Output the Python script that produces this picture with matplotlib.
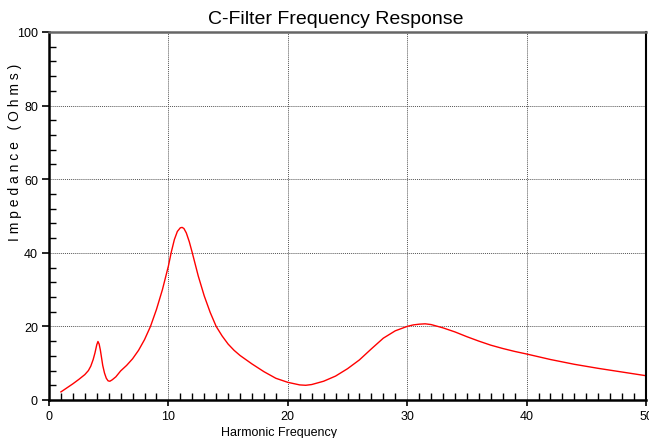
import numpy as np
import matplotlib
matplotlib.use('Agg')
import matplotlib.pyplot as plt
from matplotlib.ticker import MultipleLocator

# harmonic order vs impedance (ohms)
harmonic = [1.0, 1.5, 2.0, 2.5, 3.0, 3.3, 3.5, 3.7, 3.85, 4.0, 4.1, 4.2, 4.3, 4.4, 4.5,
            4.65, 4.8, 4.95, 5.1, 5.3, 5.6, 6.0, 6.5, 7.0, 7.5, 8.0, 8.5, 9.0, 9.5,
            10.0, 10.25, 10.5, 10.75, 11.0, 11.15, 11.3, 11.5, 11.75, 12.0, 12.5,
            13.0, 13.5, 14.0, 14.5, 15.0, 15.5, 16.0, 17.0, 18.0, 19.0, 20.0, 21.0,
            21.5, 22.0, 23.0, 24.0, 25.0, 26.0, 27.0, 28.0, 29.0, 30.0, 30.5, 31.0,
            31.5, 32.0, 33.0, 34.0, 35.0, 36.0, 37.0, 38.0, 39.0, 40.0, 42.0, 44.0,
            46.0, 48.0, 50.0]
impedance = [2.2, 3.3, 4.4, 5.6, 6.9, 8.0, 9.2, 11.0, 12.8, 15.0, 15.9, 15.2, 13.6, 11.5, 9.4,
             7.3, 5.9, 5.2, 5.1, 5.5, 6.3, 7.9, 9.4, 11.2, 13.5, 16.4, 20.0, 24.6, 30.0,
             36.4, 40.3, 43.6, 45.8, 46.8, 46.9, 46.6, 45.4, 43.0, 40.0, 33.7,
             28.3, 23.8, 20.0, 17.4, 15.2, 13.5, 12.1, 9.8, 7.7, 5.9, 4.8, 4.1,
             4.0, 4.2, 5.1, 6.5, 8.5, 10.9, 13.9, 16.8, 18.8, 20.0, 20.4, 20.6,
             20.7, 20.5, 19.6, 18.5, 17.2, 16.0, 14.9, 14.0, 13.2, 12.5, 11.0, 9.7,
             8.6, 7.6, 6.6]

plt.rcParams['font.family'] = ['Liberation Sans', 'DejaVu Sans']

fig = plt.figure(figsize=(6.49, 4.39), dpi=100)
ax = fig.add_axes([49 / 649, 1 - 401 / 439, 597 / 649, 368 / 439])

ax.plot(harmonic, impedance, color='red', lw=1.0)

ax.set_xlim(0, 50)
ax.set_ylim(0, 100)
ax.xaxis.set_major_locator(MultipleLocator(10))
ax.xaxis.set_minor_locator(MultipleLocator(1))
ax.yaxis.set_major_locator(MultipleLocator(20))
ax.yaxis.set_minor_locator(MultipleLocator(4))

ax.tick_params(which='major', direction='out', length=5, width=1.2, labelsize=9, pad=3)
ax.tick_params(which='minor', direction='in', length=5, width=1.0)
ax.tick_params(axis='x', which='major', length=4)

ax.grid(which='major', color='#555555', linestyle=(0, (1, 1)), linewidth=0.7)

for side in ['left', 'bottom']:
    ax.spines[side].set_linewidth(1.8)
ax.spines['right'].set_linewidth(1.5)
ax.spines['top'].set_linewidth(1.8)
ax.spines['top'].set_color('#666666')

fig.text(336 / 649, 1 - 19 / 439, 'C-Filter Frequency Response', ha='center', va='center',
         fontsize=14)
fig.text(15 / 649, 1 - 152 / 439, 'I m p e d a n c e   ( O h m s )', rotation=90,
         ha='center', va='center', fontsize=10)
fig.text(279 / 649, 1 - 427 / 439, 'Harmonic Frequency', ha='center', va='top', fontsize=9)

fig.savefig('out.png', dpi=100)
